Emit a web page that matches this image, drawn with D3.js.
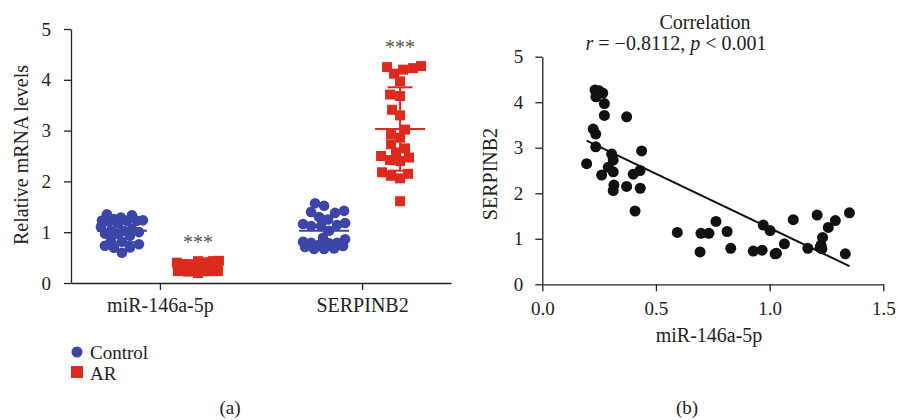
<!DOCTYPE html>
<html>
<head>
<meta charset="utf-8">
<script src="https://cdn.jsdelivr.net/npm/d3@7"></script>
<style>
  body { margin: 0; background: #fff; }
  .axis path, .axis line { stroke: #222; stroke-width: 1.3; }
</style>
</head>
<body>
<svg id="chart" width="897" height="420"></svg>
<script>
// paired samples: miR-146a-5p (x) and SERPINB2 (y)
var controlMir = [0.594, 0.694, 0.698, 0.733, 0.764, 0.813, 0.829, 0.928, 0.967, 0.972, 1.002, 1.024, 1.030,
  1.065, 1.104, 1.168, 1.209, 1.222, 1.226, 1.233, 1.230, 1.258, 1.289, 1.351, 1.333];
var controlSerpin = [1.14, 0.71, 1.12, 1.12, 1.38, 1.16, 0.79, 0.73, 0.75, 1.30, 1.18, 0.67, 0.68,
  0.89, 1.42, 0.79, 1.52, 0.81, 0.86, 1.03, 0.78, 1.25, 1.40, 1.57, 0.67];
var arMir = [0.232, 0.246, 0.266, 0.236, 0.250, 0.273, 0.273, 0.371, 0.224, 0.235, 0.235, 0.195, 0.305,
  0.312, 0.290, 0.312, 0.261, 0.437, 0.430, 0.400, 0.315, 0.312, 0.371, 0.431, 0.408];
var arSerpin = [4.27, 4.23, 4.20, 4.12, 4.25, 3.97, 3.71, 3.68, 3.41, 3.30, 3.02, 2.65, 2.86,
  2.73, 2.57, 2.47, 2.40, 2.93, 2.50, 2.42, 2.18, 2.06, 2.15, 2.11, 1.61];

var genes = ["miR-146a-5p", "SERPINB2"];
var groups = ["Control", "AR"];
var colors = { Control: "#3c46a6", AR: "#dd2a1e" };
var yTicks = [0, 1, 2, 3, 4, 5];
var xTicks = [0, 0.5, 1.0, 1.5];
var stars = "***";

var serif = "'Liberation Serif', 'Times New Roman', serif";
var svg = d3.select("#chart").attr("font-family", serif);

// ---------- panel (a) ----------
var y = d3.scaleLinear().domain([0, 5]).range([283, 29]);
var x = d3.scalePoint().domain(genes).range([71, 451]).padding(0.44);
var xg = d3.scalePoint().domain(groups).range([-38, 38]);

var a = svg.append("g");

a.append("g")
  .attr("class", "axis")
  .attr("transform", "translate(71,0)")
  .call(d3.axisLeft(y).tickValues(yTicks).tickFormat(d3.format("d")).tickSize(7).tickSizeOuter(0).tickPadding(13))
  .call((g) => g.selectAll("text").style("font-size", "19px"));

a.append("g")
  .attr("class", "axis")
  .attr("transform", "translate(0,283)")
  .call(d3.axisBottom(x).tickSize(7).tickSizeOuter(0).tickPadding(8))
  .call((g) => g.selectAll("text").style("font-size", "20px"));

a.append("text")
  .attr("transform", "translate(28,155) rotate(-90)")
  .attr("text-anchor", "middle")
  .style("font-size", "20px")
  .text("Relative mRNA levels");

// simple beeswarm: sorted values, take nearest free offset, squeeze when too wide
function swarm(values, size, maxHalf) {
  var placed = [];
  var out = [];
  var order = d3.range(values.length).sort((i, j) => values[i] - values[j]);
  order.forEach(function (i) {
    var py = y(values[i]);
    var best = 0, bestD = -1;
    for (var k = 0; k <= maxHalf; k++) {
      var cands = k === 0 ? [0] : [-k, k];
      var done = false;
      for (var c = 0; c < cands.length; c++) {
        var d = Infinity;
        placed.forEach(function (p) {
          d = Math.min(d, Math.hypot(p[0] - cands[c], p[1] - py));
        });
        if (d >= size * 0.92) { best = cands[c]; done = true; break; }
        if (d > bestD) { bestD = d; best = cands[c]; }
      }
      if (done) break;
    }
    placed.push([best, py]);
    out[i] = best;
  });
  return out;
}

var sets = [
  { gene: genes[0], group: "Control", values: controlMir },
  { gene: genes[0], group: "AR", values: arMir },
  { gene: genes[1], group: "Control", values: controlSerpin },
  { gene: genes[1], group: "AR", values: arSerpin }
];

sets.forEach(function (s) {
  var cx = x(s.gene) + xg(s.group);
  var col = colors[s.group];
  var off = swarm(s.values, 10, 21);
  var g = a.append("g");
  if (s.group === "Control") {
    g.selectAll("circle").data(s.values).enter().append("circle")
      .attr("cx", (d, i) => cx + off[i])
      .attr("cy", (d) => y(d))
      .attr("r", 5.3)
      .attr("fill", col);
  } else {
    g.selectAll("rect").data(s.values).enter().append("rect")
      .attr("x", (d, i) => cx + off[i] - 5)
      .attr("y", (d) => y(d) - 5)
      .attr("width", 10)
      .attr("height", 10)
      .attr("fill", col);
  }
  var m = d3.mean(s.values), sd = d3.deviation(s.values);
  g.append("line").attr("x1", cx - 25).attr("x2", cx + 25)
    .attr("y1", y(m)).attr("y2", y(m)).attr("stroke", col).attr("stroke-width", 2);
  g.append("line").attr("x1", cx).attr("x2", cx)
    .attr("y1", y(m - sd)).attr("y2", y(m + sd)).attr("stroke", col).attr("stroke-width", 2);
  [m - sd, m + sd].forEach(function (v) {
    g.append("line").attr("x1", cx - 12.5).attr("x2", cx + 12.5)
      .attr("y1", y(v)).attr("y2", y(v)).attr("stroke", col).attr("stroke-width", 2);
  });
  if (s.group === "AR") {
    a.append("text")
      .attr("x", cx)
      .attr("y", y(d3.max(s.values)) - 12)
      .attr("text-anchor", "middle")
      .style("font-size", "20px")
      .style("fill", "#555")
      .text(stars);
  }
});

// legend
var leg = a.append("g");
leg.append("circle").attr("cx", 77).attr("cy", 352).attr("r", 5.5).attr("fill", colors.Control);
leg.append("rect").attr("x", 71).attr("y", 366).attr("width", 12).attr("height", 12).attr("fill", colors.AR);
leg.append("text").attr("x", 90).attr("y", 358.5).style("font-size", "19px").text(groups[0]);
leg.append("text").attr("x", 90).attr("y", 380).style("font-size", "19px").text(groups[1]);

a.append("text").attr("x", 230).attr("y", 414).attr("text-anchor", "middle")
  .style("font-size", "19px").text("(a)");

// ---------- panel (b) ----------
var sx = d3.scaleLinear().domain([0, 1.5]).range([542.3, 883.3]);
var sy = d3.scaleLinear().domain([0, 5]).range([284.3, 56.7]);
var b = svg.append("g");

b.append("g")
  .attr("class", "axis")
  .attr("transform", "translate(542.3,0)")
  .call(d3.axisLeft(sy).tickValues(yTicks).tickFormat(d3.format("d")).tickSize(7).tickSizeOuter(0).tickPadding(12))
  .call((g) => g.selectAll("text").style("font-size", "19px"));

b.append("g")
  .attr("class", "axis")
  .attr("transform", "translate(0,284.3)")
  .call(d3.axisBottom(sx).tickValues(xTicks).tickFormat(d3.format(".1f")).tickSize(7).tickSizeOuter(0).tickPadding(10))
  .call((g) => g.selectAll("text").style("font-size", "19px"));

b.append("text").attr("x", 709).attr("y", 342).attr("text-anchor", "middle")
  .style("font-size", "20px").text(genes[0]);
b.append("text")
  .attr("transform", "translate(497,174) rotate(-90)")
  .attr("text-anchor", "middle")
  .style("font-size", "20px")
  .text(genes[1]);

b.append("text").attr("x", 705).attr("y", 29).attr("text-anchor", "middle")
  .style("font-size", "20px").text("Correlation");
var rt = b.append("text").attr("x", 676).attr("y", 50).attr("text-anchor", "middle").style("font-size", "20px");
rt.append("tspan").style("font-style", "italic").text("r");
rt.append("tspan").text(" = \u22120.8112, ");
rt.append("tspan").style("font-style", "italic").text("p");
rt.append("tspan").text(" < 0.001");

var allX = controlMir.concat(arMir);
var allY = controlSerpin.concat(arSerpin);
var mx = d3.mean(allX), my = d3.mean(allY);
var slope = d3.sum(allX, (v, i) => (v - mx) * (allY[i] - my)) / d3.sum(allX, (v) => (v - mx) * (v - mx));
var icpt = my - slope * mx;
var ends = d3.extent(allX);

b.append("line")
  .attr("x1", sx(ends[0])).attr("y1", sy(icpt + slope * ends[0]))
  .attr("x2", sx(ends[1])).attr("y2", sy(icpt + slope * ends[1]))
  .attr("stroke", "#111").attr("stroke-width", 2);

b.selectAll("circle.pt").data(allX).enter().append("circle")
  .attr("class", "pt")
  .attr("cx", (d) => sx(d))
  .attr("cy", (d, i) => sy(allY[i]))
  .attr("r", 5.5)
  .attr("fill", "#111");

b.append("text").attr("x", 687).attr("y", 414).attr("text-anchor", "middle")
  .style("font-size", "19px").text("(b)");

// every text in the same serif face and dark grey, like the source figure
svg.selectAll("text").style("font-family", serif);
svg.selectAll("text:not([style*='fill'])").style("fill", "#222");
</script>
</body>
</html>
